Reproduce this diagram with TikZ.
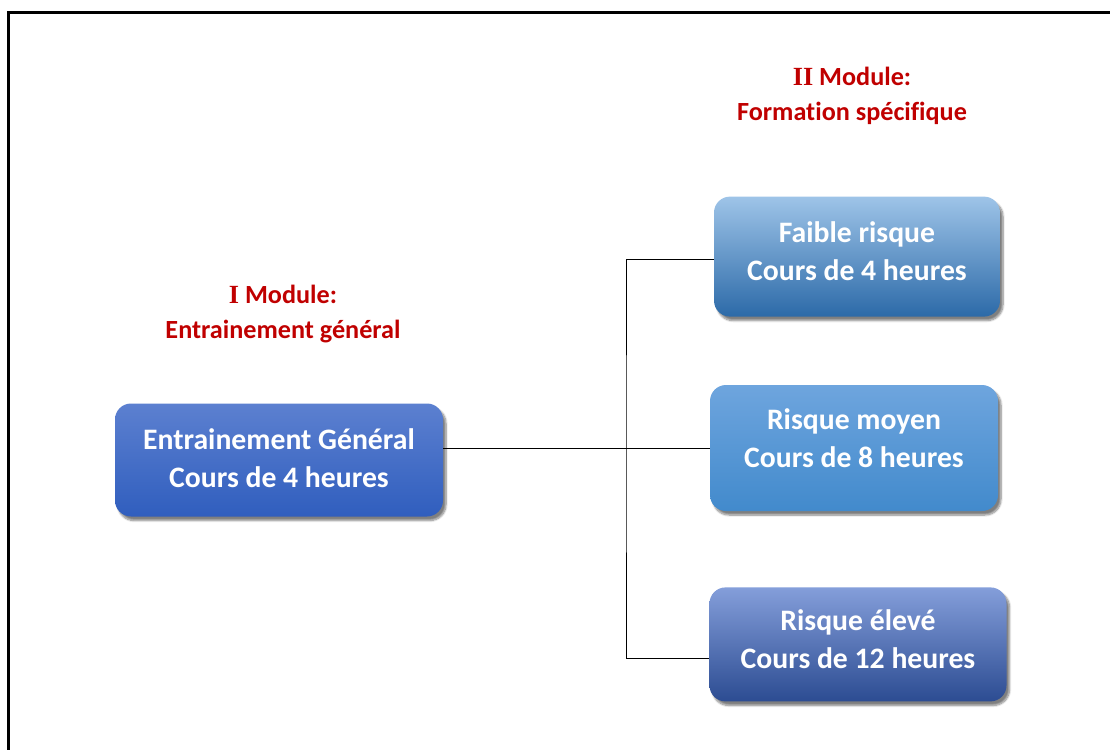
\documentclass[tikz,border=0pt]{standalone}
\usepackage{fontspec}
\setmainfont{Carlito}[Ligatures=NoCommon]
\newfontfamily\numfont{Liberation Serif}
\usepackage{xcolor}
\usetikzlibrary{positioning,calc,shadows.blur}

\definecolor{modred}{RGB}{192,0,0}

\begin{document}
\begin{tikzpicture}[x=1pt, y=-1pt]
        \tikzset{
            course/.style={draw=none, rectangle, rounded corners=16pt, align=center, inner sep=0pt, text=white, font=\fontsize{29.7}{38}\selectfont\bfseries, blur shadow={shadow xshift=3pt, shadow yshift=-4pt, shadow blur steps=8, shadow opacity=50}},
            title/.style={align=center, text=modred, font=\fontsize{26.2}{35}\selectfont\bfseries},
            link/.style={draw=black, line width=0.8pt}
        }
        \clip (0,0) rectangle (1110,749);
        
        % Frame
        \draw [line width=3pt] (8,13) rectangle (1130,770);
        
        % Nodes
        \node [course, text depth=4pt, top color={rgb,255:red,92;green,128;blue,208}, bottom color={rgb,255:red,48;green,94;blue,190}, minimum width=328pt, minimum height=113pt] (gen) at (279,460) {Entrainement Général\\Cours de 4 heures};
        \node [course, text depth=20pt, top color={rgb,255:red,110;green,165;blue,222}, bottom color={rgb,255:red,66;green,138;blue,204}, minimum width=288pt, minimum height=126pt] (moyen) at (854,448) {Risque moyen\\Cours de 8 heures};
        \node [course, text depth=12pt, top color={rgb,255:red,158;green,196;blue,232}, middle color={rgb,255:red,92;green,154;blue,212}, bottom color={rgb,255:red,44;green,106;blue,168}, minimum width=286pt, minimum height=120pt, above=68pt of moyen, xshift=3pt] (faible) {Faible risque\\Cours de 4 heures};
        \node [course, text depth=10pt, top color={rgb,255:red,132;green,158;blue,218}, middle color={rgb,255:red,70;green,114;blue,196}, bottom color={rgb,255:red,44;green,76;blue,146}, minimum width=297pt, minimum height=114pt, below=76pt of moyen, xshift=4pt] (eleve) {Risque élevé\\Cours de 12 heures};
        
        % Titles
        \node [title] (mod1) at (283,314) {{\numfont I} Module:\\Entrainement général};
        \node [title] (mod2) at (852,96) {{\numfont II} Module:\\Formation spécifique};
        
        % Connections
        \coordinate (split) at (626,449);
        \draw [link] (gen.east |- moyen.west) -- (moyen.west);
        \draw [link] ([yshift=-3pt]faible.west) -| (split) |- ([yshift=-14pt]eleve.west);
    \end{tikzpicture}
\end{document}
